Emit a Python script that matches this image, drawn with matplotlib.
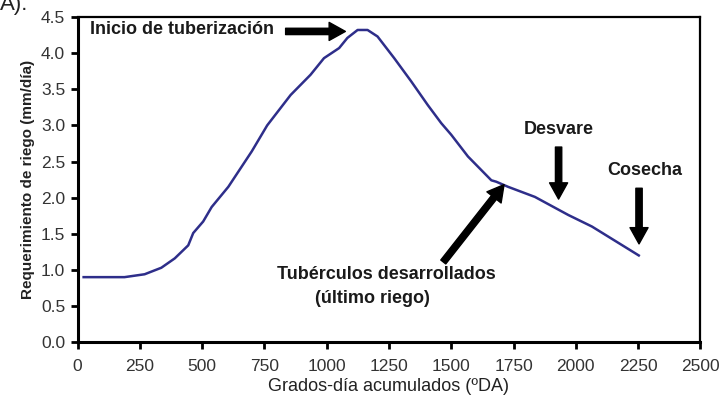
#!/usr/bin/env python3
"""Requerimiento de riego vs grados-dia acumulados."""

import matplotlib

matplotlib.use("Agg")
import matplotlib.pyplot as plt

plt.rcParams["font.family"] = ["Liberation Sans", "DejaVu Sans"]

# curve (grados-dia, mm/dia)
gdd = [24, 100, 188, 269, 336, 390, 444, 464, 504, 538, 605, 699, 761, 855,
       935, 989, 1050, 1083, 1124, 1164, 1204, 1271, 1339, 1406, 1460, 1500,
       1567, 1661, 1681, 1728, 1836, 1970, 2065, 2253]
req = [0.90, 0.90, 0.90, 0.94, 1.03, 1.16, 1.34, 1.51, 1.67, 1.87, 2.15, 2.64,
       3.00, 3.42, 3.70, 3.93, 4.07, 4.21, 4.32, 4.32, 4.23, 3.93, 3.61, 3.28,
       3.03, 2.87, 2.57, 2.24, 2.22, 2.15, 2.01, 1.76, 1.60, 1.20]

x_ticks = [0, 250, 500, 750, 1000, 1250, 1500, 1750, 2000, 2250, 2500]
y_ticks = [0.0, 0.5, 1.0, 1.5, 2.0, 2.5, 3.0, 3.5, 4.0, 4.5]

fig = plt.figure(figsize=(7.19, 4.04), dpi=100)
ax = fig.add_axes([0.108, 0.153, 0.866, 0.805])

ax.plot(gdd, req, color="#2e2e8a", lw=1.8)

ax.set_xlim(0, 2500)
ax.set_ylim(0, 4.5)
ax.set_xticks(x_ticks)
ax.set_yticks(y_ticks)
ax.set_yticklabels([f"{v:.1f}" for v in y_ticks])
ax.tick_params(direction="out", length=5, width=2, labelsize=12.5,
               labelcolor="#333333", pad=4)
ax.tick_params(axis="x", pad=7)
for side in ["left", "bottom"]:
    ax.spines[side].set_linewidth(2.2)
for side in ["top", "right"]:
    ax.spines[side].set_linewidth(1.6)

ax.set_xlabel("Grados-día acumulados (ºDA)", fontsize=13, color="#222222", labelpad=3)
ax.set_ylabel("Requerimiento de riego (mm/día)", fontsize=11, fontweight="bold",
              color="#222222", labelpad=4)

arrow = dict(arrowstyle="simple,head_length=0.9,head_width=1.0,tail_width=0.35",
             color="black", mutation_scale=13, shrinkA=0, shrinkB=0)
bold = dict(fontsize=13, fontweight="bold", color="#1a1a1a")

ax.text(48, 4.32, "Inicio de tuberización", va="center", ha="left", **bold)
ax.annotate("", xy=(1075, 4.3), xytext=(835, 4.3), arrowprops=arrow)

ax.text(1930, 2.94, "Desvare", ha="center", va="center", **bold)
ax.annotate("", xy=(1931, 1.98), xytext=(1931, 2.70), arrowprops=arrow)

ax.text(2275, 2.38, "Cosecha", ha="center", va="center", **bold)
ax.annotate("", xy=(2254, 1.36), xytext=(2254, 2.13), arrowprops=arrow)

ax.text(1240, 0.94, "Tubérculos desarrollados", ha="center", va="center", **bold)
ax.text(1185, 0.61, "(último riego)", ha="center", va="center", **bold)
ax.annotate("", xy=(1712, 2.18), xytext=(1468, 1.11), arrowprops=arrow)

fig.text(0.0, 0.975, "A).", fontsize=16, ha="left", va="baseline", color="#222222")

fig.savefig("out.png", dpi=100)
plt.close(fig)
